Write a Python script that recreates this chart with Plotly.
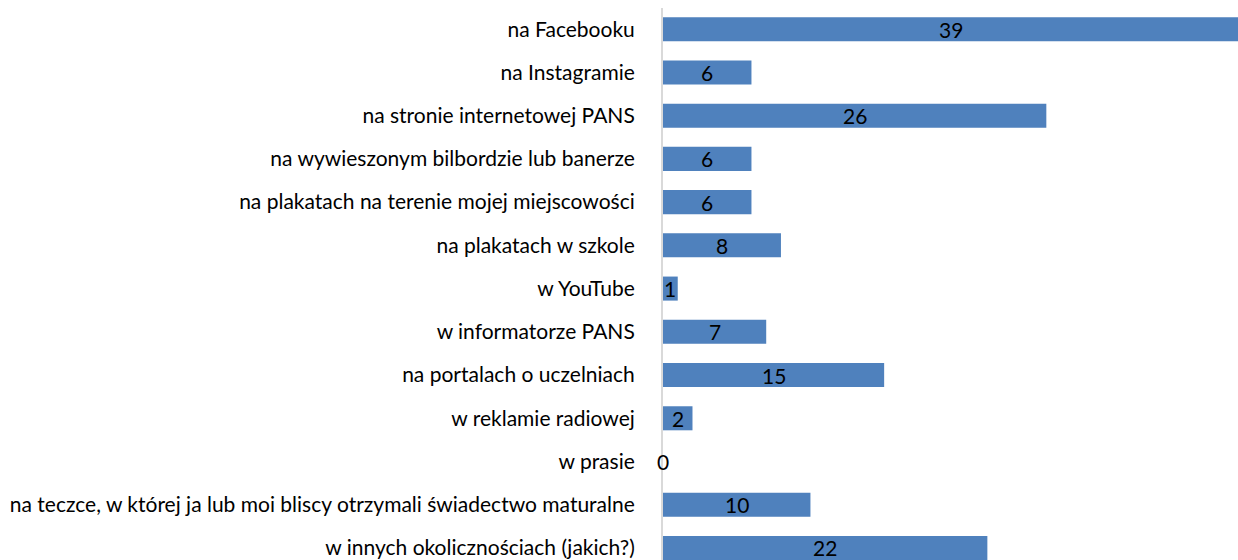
import plotly.graph_objects as go

categories = [
    "na Facebooku",
    "na Instagramie",
    "na stronie internetowej PANS",
    "na wywieszonym bilbordzie lub banerze",
    "na plakatach na terenie mojej miejscowości",
    "na plakatach w szkole",
    "w YouTube",
    "w informatorze PANS",
    "na portalach o uczelniach",
    "w reklamie radiowej",
    "w prasie",
    "na teczce, w której ja lub moi bliscy otrzymali świadectwo maturalne",
    "w innych okolicznościach (jakich?)",
]
values = [39, 6, 26, 6, 6, 8, 1, 7, 15, 2, 0, 10, 22]

FONT = "Lato"
FS = 21

fig = go.Figure()
fig.add_trace(go.Bar(
    y=categories, x=values, orientation="h",
    marker=dict(color="#4f81bd", line=dict(width=0)),
    hoverinfo="skip",
))

for c, v in zip(categories, values):
    fig.add_annotation(x=v / 2, y=c, text=str(v), showarrow=False,
                       xanchor="center", yanchor="middle",
                       font=dict(family=FONT, size=FS, color="#000000"))

fig.update_layout(
    width=1238, height=560,
    margin=dict(l=663, r=0, t=8, b=0),
    plot_bgcolor="white", paper_bgcolor="white",
    bargap=0.444,
    showlegend=False,
    font=dict(family=FONT, size=FS, color="#000000"),
)
fig.update_xaxes(range=[0, 39], visible=False, showgrid=False, zeroline=False)
fig.update_yaxes(
    categoryorder="array", categoryarray=categories,
    range=[12.278, -0.49],
    showgrid=False, zeroline=False,
    showline=True, linecolor="#d9d9d9", linewidth=2,
    ticks="", ticklabelstandoff=22,
    tickfont=dict(family=FONT, size=FS, color="#000000"),
)

fig.write_html(
    "out.html",
    config={"displayModeBar": False},
    post_script="document.body.style.margin='0';document.body.style.overflow='hidden';",
)
